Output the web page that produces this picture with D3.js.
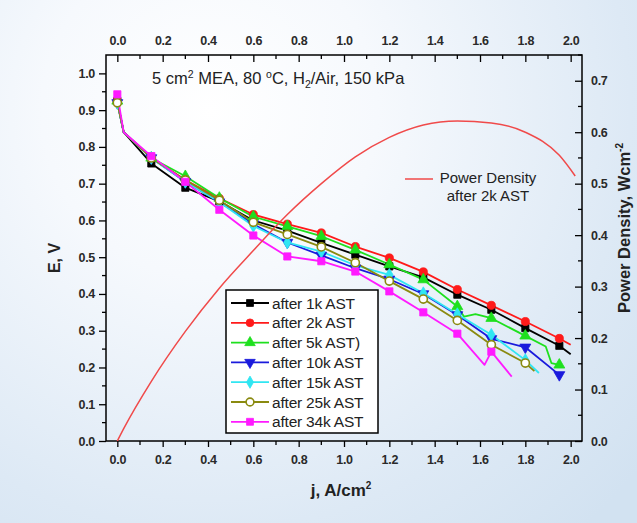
<!DOCTYPE html>
<html>
<head>
<meta charset="utf-8">
<script src="https://cdn.jsdelivr.net/npm/d3@7"></script>
<style>
  html, body { margin: 0; padding: 0; background: #fff; }
  svg { display: block; }
  text { font-family: "Liberation Sans", Arial, sans-serif; }
</style>
</head>
<body>
<svg id="chart" width="637" height="523"></svg>
<script>
// Polarisation curves of a 5 cm² MEA after successive AST cycles
const seriesNames = ["after 1k AST", "after 2k AST", "after 5k AST)", "after 10k AST",
                     "after 15k AST", "after 25k AST", "after 34k AST"];
const seriesColors = ["#000000", "#ff1a1a", "#1ee01e", "#1a1adc", "#30e6f2", "#8a8a10", "#ff1aff"];
const seriesSymbols = ["square", "circle", "triangleUp", "triangleDown", "diamond", "openCircle", "square"];

// current density (A/cm²) where the markers sit
const markerJ = [0, 0.15, 0.3, 0.45, 0.6, 0.75, 0.9, 1.05, 1.2, 1.35, 1.5, 1.65, 1.8, 1.95];

const jAfter1k  = [0, 0.028, 0.15, 0.3, 0.45, 0.6, 0.75, 0.9, 1.05, 1.2, 1.35, 1.5, 1.65, 1.8, 1.95, 2.0];
const eAfter1k  = [0.925, 0.84, 0.755, 0.689, 0.652, 0.600, 0.572, 0.539, 0.507, 0.475, 0.445, 0.398, 0.357, 0.307, 0.259, 0.236];

const jAfter2k  = [0, 0.028, 0.15, 0.3, 0.45, 0.6, 0.75, 0.9, 1.05, 1.2, 1.35, 1.5, 1.65, 1.8, 1.95, 2.0];
const eAfter2k  = [0.925, 0.84, 0.770, 0.710, 0.660, 0.616, 0.590, 0.566, 0.529, 0.498, 0.460, 0.412, 0.369, 0.325, 0.279, 0.262];

const jAfter5k  = [0, 0.028, 0.15, 0.3, 0.45, 0.6, 0.75, 0.9, 1.05, 1.2, 1.35, 1.5, 1.53, 1.58, 1.65, 1.8, 1.89, 1.915, 1.95];
const eAfter5k  = [0.925, 0.84, 0.770, 0.720, 0.661, 0.610, 0.584, 0.557, 0.520, 0.480, 0.439, 0.366, 0.338, 0.345, 0.334, 0.286, 0.257, 0.212, 0.207];

const jAfter10k = [0, 0.028, 0.15, 0.3, 0.45, 0.6, 0.75, 0.9, 1.05, 1.2, 1.35, 1.5, 1.65, 1.8, 1.95];
const eAfter10k = [0.920, 0.84, 0.770, 0.705, 0.650, 0.590, 0.540, 0.505, 0.470, 0.440, 0.400, 0.343, 0.278, 0.255, 0.180];

const jAfter15k = [0, 0.028, 0.15, 0.3, 0.45, 0.6, 0.75, 0.9, 1.05, 1.2, 1.35, 1.5, 1.65, 1.8, 1.86];
const eAfter15k = [0.920, 0.84, 0.770, 0.705, 0.650, 0.585, 0.540, 0.515, 0.478, 0.452, 0.402, 0.345, 0.289, 0.220, 0.185];

const jAfter25k = [0, 0.028, 0.15, 0.3, 0.45, 0.6, 0.75, 0.9, 1.05, 1.2, 1.35, 1.5, 1.65, 1.8, 1.84];
const eAfter25k = [0.920, 0.84, 0.770, 0.710, 0.655, 0.595, 0.562, 0.528, 0.485, 0.435, 0.386, 0.328, 0.262, 0.212, 0.190];

const jAfter34k = [0, 0.028, 0.15, 0.3, 0.45, 0.6, 0.75, 0.9, 1.05, 1.2, 1.35, 1.5, 1.62, 1.65, 1.74];
const eAfter34k = [0.943, 0.84, 0.775, 0.705, 0.629, 0.559, 0.502, 0.489, 0.461, 0.407, 0.350, 0.292, 0.207, 0.243, 0.175];

// power density after 2k AST (W/cm²)
const jPower = [0, 0.028, 0.15, 0.3, 0.45, 0.6, 0.75, 0.9, 1.05, 1.2, 1.35, 1.5, 1.65, 1.8, 1.95, 2.02];
const pPower = [0, 0.024, 0.116, 0.213, 0.297, 0.370, 0.440, 0.500, 0.552, 0.590, 0.614, 0.622, 0.618, 0.600, 0.555, 0.515];

const xTicks = [0, 0.2, 0.4, 0.6, 0.8, 1.0, 1.2, 1.4, 1.6, 1.8, 2.0];
const eTicks = [0, 0.1, 0.2, 0.3, 0.4, 0.5, 0.6, 0.7, 0.8, 0.9, 1.0];
const pTicks = [0, 0.1, 0.2, 0.3, 0.4, 0.5, 0.6, 0.7];

const seriesJ = [jAfter1k, jAfter2k, jAfter5k, jAfter10k, jAfter15k, jAfter25k, jAfter34k];
const seriesE = [eAfter1k, eAfter2k, eAfter5k, eAfter10k, eAfter15k, eAfter25k, eAfter34k];

const svg = d3.select("#chart");
const W = 637, H = 523;
const frame = { left: 106, right: 582, top: 55, bottom: 441 };

// soft blue backdrop
const defs = svg.append("defs");
const grad = defs.append("radialGradient").attr("id", "bg")
  .attr("gradientUnits", "userSpaceOnUse").attr("cx", 210).attr("cy", 110).attr("r", 560);
grad.append("stop").attr("offset", 0).attr("stop-color", "#ffffff");
grad.append("stop").attr("offset", 0.3).attr("stop-color", "#f6f9fd");
grad.append("stop").attr("offset", 0.75).attr("stop-color", "#dde9f5");
grad.append("stop").attr("offset", 1).attr("stop-color", "#d2e2f1");
svg.append("rect").attr("width", W).attr("height", H).attr("fill", "url(#bg)");

const x = d3.scaleLinear().domain([-0.05, 2.05]).range([frame.left, frame.right]);
const yE = d3.scaleLinear().domain([0, 1.05]).range([frame.bottom, frame.top]);
const yP = d3.scaleLinear().domain([0, 0.75]).range([frame.bottom, frame.top]);

const fmt = d3.format(".1f");
const tickFont = "12.5px";
const tickColor = "#2a2a2a";

function minorBetween(ticks) {
  const out = [];
  for (let i = 0; i < ticks.length - 1; i++) out.push((ticks[i] + ticks[i + 1]) / 2);
  return out;
}
function styleAxis(g) {
  g.select(".domain").remove();
  g.selectAll("line").attr("stroke", "#000").attr("stroke-width", 1.3);
  g.selectAll("text").attr("fill", tickColor).style("font-size", tickFont).style("font-weight", "bold")
    .style("letter-spacing", "-0.3px");
}

// bottom axis (outward ticks)
const gBottom = svg.append("g").attr("transform", `translate(0,${frame.bottom})`);
gBottom.call(d3.axisBottom(x).tickValues(xTicks).tickFormat(fmt).tickSize(6).tickPadding(8)).call(styleAxis);
gBottom.call(g => g.selectAll(".minor").data(minorBetween(xTicks)).join("line").attr("class", "minor")
  .attr("x1", d => x(d)).attr("x2", d => x(d)).attr("y1", 0).attr("y2", 4)
  .attr("stroke", "#000").attr("stroke-width", 1.3));

// top axis (inward ticks, labels above)
const gTop = svg.append("g").attr("transform", `translate(0,${frame.top})`);
gTop.call(d3.axisTop(x).tickValues(xTicks).tickFormat(fmt).tickSizeInner(-7).tickSizeOuter(0).tickPadding(10)).call(styleAxis);
gTop.call(g => g.selectAll(".minor").data(minorBetween(xTicks)).join("line").attr("class", "minor")
  .attr("x1", d => x(d)).attr("x2", d => x(d)).attr("y1", 0).attr("y2", 4)
  .attr("stroke", "#000").attr("stroke-width", 1.3));

// left axis (outward ticks)
const gLeft = svg.append("g").attr("transform", `translate(${frame.left},0)`);
gLeft.call(d3.axisLeft(yE).tickValues(eTicks).tickFormat(fmt).tickSize(7).tickPadding(4)).call(styleAxis);
gLeft.call(g => g.selectAll(".minor").data(minorBetween(eTicks)).join("line").attr("class", "minor")
  .attr("x1", 0).attr("x2", -4).attr("y1", d => yE(d)).attr("y2", d => yE(d))
  .attr("stroke", "#000").attr("stroke-width", 1.3));

// right axis (inward ticks)
const gRight = svg.append("g").attr("transform", `translate(${frame.right},0)`);
gRight.call(d3.axisRight(yP).tickValues(pTicks).tickFormat(fmt).tickSizeInner(-7).tickSizeOuter(0).tickPadding(9)).call(styleAxis);
gRight.call(g => g.selectAll(".minor").data(minorBetween(pTicks.concat([0.8])).filter(d => d <= 0.75))
  .join("line").attr("class", "minor")
  .attr("x1", 0).attr("x2", -4).attr("y1", d => yP(d)).attr("y2", d => yP(d))
  .attr("stroke", "#000").attr("stroke-width", 1.3));

// plot frame
svg.append("rect").attr("x", frame.left).attr("y", frame.top)
  .attr("width", frame.right - frame.left).attr("height", frame.bottom - frame.top)
  .attr("fill", "none").attr("stroke", "#000").attr("stroke-width", 1.5);

// axis titles
svg.append("text").attr("transform", `translate(60,${258}) rotate(-90)`)
  .attr("text-anchor", "middle").style("font-size", "16px").style("font-weight", "bold").attr("fill", "#222")
  .text("E, V");
const xt = svg.append("text").attr("x", 341).attr("y", 496).attr("text-anchor", "middle")
  .style("font-size", "17px").style("font-weight", "bold").attr("fill", "#222");
xt.append("tspan").text("j, A/cm");
xt.append("tspan").attr("dy", -7).style("font-size", "10px").text("2");
const yt = svg.append("text").attr("transform", `translate(630,228) rotate(-90)`)
  .attr("text-anchor", "middle").style("font-size", "16.5px").style("font-weight", "bold").attr("fill", "#222");
yt.append("tspan").text("Power Density, Wcm");
yt.append("tspan").attr("dy", -7).style("font-size", "10px").text("-2");

// heading inside the plot
const hd = svg.append("text").attr("x", 152).attr("y", 84).style("font-size", "16.5px").attr("fill", "#222");
hd.append("tspan").text("5 cm");
hd.append("tspan").attr("dy", -6).style("font-size", "10.5px").text("2");
hd.append("tspan").attr("dy", 6).text(" MEA, 80 ");
hd.append("tspan").attr("dy", -6).style("font-size", "10.5px").text("o");
hd.append("tspan").attr("dy", 6).text("C, H");
hd.append("tspan").attr("dy", 4).style("font-size", "10.5px").text("2");
hd.append("tspan").attr("dy", -4).text("/Air, 150 kPa");

// markers
function markerPath(kind, size) {
  switch (kind) {
    case "square": return d3.symbol(d3.symbolSquare, size)();
    case "circle": case "openCircle": return d3.symbol(d3.symbolCircle, size)();
    case "triangleUp": return d3.symbol(d3.symbolTriangle, size)();
    case "triangleDown": return d3.symbol(d3.symbolTriangle, size)();
    case "diamond": return d3.symbol(d3.symbolDiamond, size * 0.9)();
  }
}
function drawMarker(g, kind, color, cx, cy, size) {
  const p = g.append("path").attr("d", markerPath(kind, size))
    .attr("transform", `translate(${cx},${cy})` + (kind === "triangleDown" ? " rotate(180)" : ""));
  if (kind === "openCircle") p.attr("fill", "#fff").attr("stroke", color).attr("stroke-width", 1.6);
  else p.attr("fill", color).attr("stroke", color).attr("stroke-width", 0.8);
}

const line = d3.line().x(d => x(d[0])).y(d => yE(d[1]));
const plot = svg.append("g");
seriesE.forEach((es, i) => {
  const pts = es.map((e, k) => [seriesJ[i][k], e]);
  plot.append("path").datum(pts).attr("d", line).attr("fill", "none")
    .attr("stroke", seriesColors[i]).attr("stroke-width", 1.8).attr("stroke-linejoin", "round");
});
seriesE.forEach((es, i) => {
  const g = plot.append("g");
  es.forEach((e, k) => {
    const j = seriesJ[i][k];
    if (markerJ.some(m => Math.abs(m - j) < 1e-6)) drawMarker(g, seriesSymbols[i], seriesColors[i], x(j), yE(e), 52);
  });
});

// power density curve
const pLine = d3.line().x(d => x(d[0])).y(d => yP(d[1])).curve(d3.curveMonotoneX);
plot.append("path").datum(jPower.map((j, k) => [j, pPower[k]])).attr("d", pLine)
  .attr("fill", "none").attr("stroke", "#f04a4a").attr("stroke-width", 1.5);

// power density annotation
svg.append("line").attr("x1", 405).attr("x2", 433).attr("y1", 179).attr("y2", 179)
  .attr("stroke", "#f04a4a").attr("stroke-width", 1.5);
svg.append("text").attr("x", 488).attr("y", 183).attr("text-anchor", "middle")
  .style("font-size", "15px").attr("fill", "#222").text("Power Density");
svg.append("text").attr("x", 488).attr("y", 201).attr("text-anchor", "middle")
  .style("font-size", "15px").attr("fill", "#222").text("after 2k AST");

// legend
const lg = svg.append("g");
lg.append("rect").attr("x", 226).attr("y", 290).attr("width", 152).attr("height", 143)
  .attr("fill", "#fff").attr("stroke", "#000").attr("stroke-width", 1.5);
seriesNames.forEach((name, i) => {
  const cy = 303 + i * 19.8;
  lg.append("line").attr("x1", 231).attr("x2", 269).attr("y1", cy).attr("y2", cy)
    .attr("stroke", seriesColors[i]).attr("stroke-width", 1.8);
  drawMarker(lg, seriesSymbols[i], seriesColors[i], 250, cy, 48);
  lg.append("text").attr("x", 272).attr("y", cy + 5.5).style("font-size", "15.5px")
    .style("letter-spacing", "-0.2px").attr("fill", "#222").text(name);
});
</script>
</body>
</html>
